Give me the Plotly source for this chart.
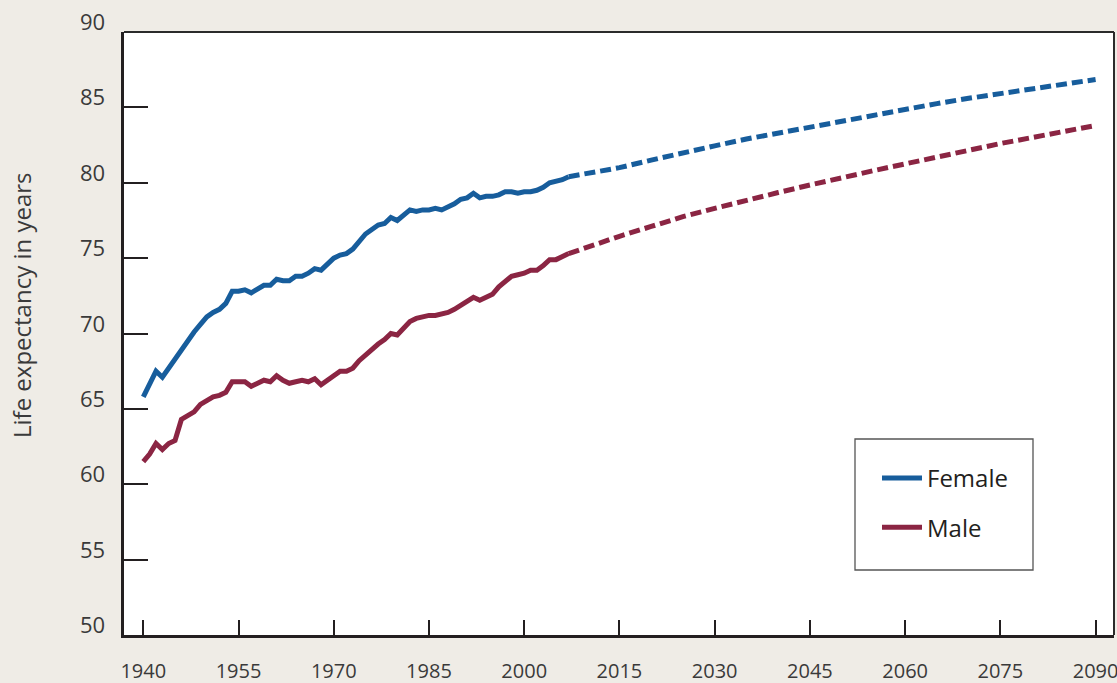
import plotly.graph_objects as go

# ---------------- data ----------------
hist_years = list(range(1940, 2008))
female_hist = [65.8, 66.6, 67.5, 67.1, 67.7, 68.3, 69.0, 69.6, 70.1, 70.6,
               71.1, 71.4, 71.6, 72.0, 72.8, 72.8, 72.9, 72.7, 73.0, 73.2,
               73.2, 73.6, 73.5, 73.5, 73.8, 73.8, 74.0, 74.3, 74.2, 74.6,
               75.0, 75.2, 75.3, 75.6, 76.1, 76.6, 76.9, 77.2, 77.3, 77.7,
               77.5, 77.9, 78.2, 78.1, 78.2, 78.2, 78.3, 78.2, 78.4, 78.6,
               78.9, 79.0, 79.3, 79.0, 79.1, 79.1, 79.2, 79.4, 79.4, 79.3,
               79.4, 79.4, 79.5, 79.7, 80.0, 80.1, 80.2, 80.4]
male_hist = [61.5, 62.0, 62.7, 62.3, 62.7, 62.9, 64.3, 64.6, 64.8, 65.3,
             65.6, 65.8, 65.9, 66.1, 66.8, 66.8, 66.8, 66.5, 66.7, 66.9,
             66.8, 67.2, 66.9, 66.7, 66.8, 66.9, 66.8, 67.0, 66.6, 66.9,
             67.3, 67.5, 67.5, 67.7, 68.2, 68.6, 69.0, 69.3, 69.6, 70.0,
             69.9, 70.4, 70.8, 71.0, 71.1, 71.2, 71.2, 71.3, 71.4, 71.6,
             71.9, 72.1, 72.4, 72.2, 72.4, 72.6, 73.1, 73.5, 73.8, 73.9,
             74.0, 74.2, 74.2, 74.5, 74.9, 74.9, 75.1, 75.3]

proj_years = [2007, 2010, 2015, 2020, 2025, 2030, 2035, 2040, 2045, 2050,
              2055, 2060, 2065, 2070, 2075, 2080, 2085, 2090]
female_proj = [80.4, 80.6, 81.0, 81.5, 82.0, 82.45, 82.9, 83.3, 83.7, 84.1,
               84.5, 84.9, 85.25, 85.6, 85.9, 86.25, 86.55, 86.85]
male_proj = [75.3, 75.75, 76.45, 77.1, 77.75, 78.3, 78.85, 79.35, 79.85, 80.35,
             80.8, 81.25, 81.7, 82.2, 82.6, 83.0, 83.4, 83.8]

x_ticks = [1940, 1955, 1970, 1985, 2000, 2015, 2030, 2045, 2060, 2075, 2090]
y_ticks = [50, 55, 60, 65, 70, 75, 80, 85, 90]

series_names = ["Female", "Male"]
colors = ["#175d9c", "#8b2543"]

FONT = "Open Sans"
TXT = "#3a3a3a"

fig = go.Figure()
for name, col, yh, yp in zip(series_names, colors,
                             [female_hist, male_hist], [female_proj, male_proj]):
    fig.add_trace(go.Scatter(x=hist_years, y=yh, mode="lines", name=name,
                             legendgroup=name,
                             line=dict(color=col, width=5)))
    fig.add_trace(go.Scatter(x=proj_years, y=yp, mode="lines", name=name,
                             legendgroup=name, showlegend=False,
                             line=dict(color=col, width=5, dash="11px,5px")))

W, H = 1117, 683
L, R, T, B = 124, 3, 32, 48
pw, ph = W - L - R, H - T - B

def px(xp):
    return (xp - L) / pw

def py(yp):
    return (H - B - yp) / ph

# y tick labels, placed on the y scale and lifted above their ticks
ylabel_ann = [dict(text=str(v), xref="paper", yref="y", x=px(107), y=v,
                   xanchor="right", yanchor="middle", yshift=11,
                   showarrow=False, font=dict(size=22, color=TXT, family=FONT))
              for v in y_ticks]

fig.update_layout(
    width=W, height=H,
    margin=dict(l=L, r=R, t=T, b=B, autoexpand=False),
    paper_bgcolor="#efece6",
    plot_bgcolor="#ffffff",
    font=dict(family=FONT, color=TXT),
    xaxis=dict(range=[1936.96, 2092.9], tickvals=x_ticks, automargin=False,
               showgrid=False, zeroline=False,
               showline=True, linewidth=3, linecolor="#231f20",
               ticks="inside", ticklen=15, tickwidth=2, tickcolor="#231f20",
               tickfont=dict(size=20, color=TXT, family=FONT),
               ticklabelstandoff=16, ticklabeloverflow="allow"),
    yaxis=dict(range=[50, 90], tickvals=y_ticks, showticklabels=False,
               automargin=False,
               showgrid=False, zeroline=False,
               showline=True, linewidth=3, linecolor="#231f20",
               ticks="inside", ticklen=24, tickwidth=2, tickcolor="#231f20"),
    showlegend=True,
    legend=dict(x=px(877), y=py(456), xanchor="left", yanchor="top",
                bgcolor="rgba(0,0,0,0)", borderwidth=0,
                font=dict(size=24, color="#231f20", family=FONT),
                tracegroupgap=15, itemwidth=40),
    shapes=[
        dict(type="line", xref="paper", yref="paper", x0=0, x1=1, y0=1, y1=1,
             line=dict(color="#2b2b2b", width=2)),
        dict(type="line", xref="paper", yref="paper", x0=1, x1=1, y0=0, y1=1,
             line=dict(color="#2b2b2b", width=2)),
        dict(type="rect", xref="paper", yref="paper",
             x0=px(855), x1=px(1033), y0=py(570), y1=py(439),
             line=dict(color="#555555", width=1.3), fillcolor="rgba(0,0,0,0)"),
    ],
    annotations=[
        dict(text="Life expectancy in years", xref="paper", yref="paper",
             x=px(21), y=py(305), xanchor="center", yanchor="middle",
             textangle=-90, showarrow=False,
             font=dict(size=24, color=TXT, family=FONT)),
    ] + ylabel_ann,
)

fig.write_html("out.html",
               config={"displayModeBar": False},
               post_script="document.body.style.margin='0';"
                           "document.body.style.overflow='hidden';")
